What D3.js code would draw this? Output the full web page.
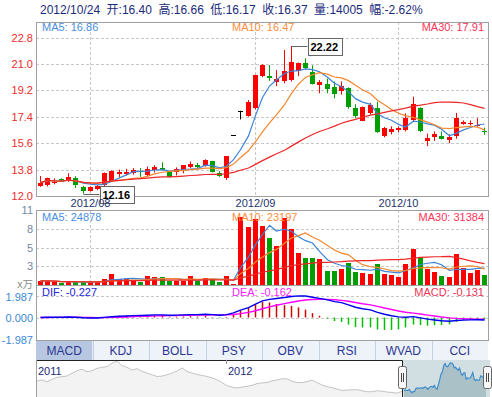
<!DOCTYPE html>
<html>
<head>
<meta charset="utf-8">
<script src="https://cdn.jsdelivr.net/npm/d3@7"></script>
<style>
  body { margin: 0; background: #fff; }
  svg { display: block; font-family: "Liberation Sans", Arial, "Noto Sans CJK SC", sans-serif; }
</style>
</head>
<body>
<div id="chart"></div>
<script>
// trading days, 2012/07/23 .. 2012/10/24
const julDays = [23, 24, 25, 26, 27, 30, 31];
const augDays = [1, 2, 3, 6, 7, 8, 9, 10, 13, 14, 15, 16, 17, 20, 21, 22, 23, 24, 27, 28, 29, 30, 31];
const sepDays = [3, 4, 5, 6, 7, 10, 11, 12, 13, 14, 17, 18, 19, 20, 21, 24, 25, 26, 27, 28];
const octDays = [8, 9, 10, 11, 12, 15, 16, 17, 18, 19, 22, 23, 24];

const opens = [12.70, 12.70, 12.87, 13.16, 13.09, 13.25, 12.63, 12.36, 12.46, 12.70,
  13.04, 13.48, 13.50, 13.55, 13.70, 13.38, 13.82, 13.93, 13.66, 13.59,
  13.77, 14.00, 14.11, 14.04, 14.38, 13.59, 13.20, 16.19, 17.81, 17.45,
  18.00, 20.17, 20.19, 19.72, 19.85, 19.85, 20.47, 21.04, 20.47, 19.56,
  19.61, 19.45, 19.15, 19.34, 17.97, 17.13, 17.67, 17.97, 16.09, 16.36,
  16.50, 16.50, 17.18, 17.97, 15.70, 16.00, 16.11, 15.86, 16.04, 16.95,
  16.95, 16.76, 16.40];
const highs = [13.36, 13.25, 13.20, 13.20, 13.55, 13.35, 12.70, 12.66, 12.75, 13.60,
  13.75, 13.80, 13.85, 13.90, 13.90, 14.00, 14.10, 14.30, 13.70, 13.95,
  14.10, 14.35, 14.25, 14.50, 14.40, 13.70, 14.72, 16.19, 17.81, 18.54,
  20.26, 20.97, 20.92, 20.58, 21.95, 22.22, 21.10, 21.38, 20.90, 19.90,
  20.00, 19.80, 19.80, 19.40, 18.25, 18.10, 18.35, 18.42, 16.70, 16.75,
  16.75, 17.63, 18.76, 18.05, 16.25, 16.40, 16.40, 16.20, 17.66, 17.15,
  17.15, 17.30, 16.66];
const lows = [12.63, 12.65, 12.80, 12.95, 12.97, 12.55, 12.16, 12.30, 12.40, 12.65,
  13.00, 13.30, 13.40, 13.45, 13.30, 13.35, 13.60, 13.75, 13.25, 13.40,
  13.55, 13.90, 13.90, 14.00, 13.60, 13.30, 13.10, 16.19, 17.22, 17.40,
  17.90, 20.10, 19.85, 19.49, 19.68, 19.80, 20.17, 20.60, 19.60, 19.00,
  19.00, 18.66, 18.90, 17.95, 17.30, 17.10, 17.55, 16.30, 16.00, 16.20,
  16.35, 16.40, 17.10, 16.35, 15.40, 15.75, 15.85, 15.60, 15.90, 16.85,
  16.80, 16.72, 16.17];
const closes = [12.91, 13.21, 12.97, 12.97, 13.31, 12.80, 12.36, 12.63, 12.68, 13.55,
  13.72, 13.61, 13.65, 13.77, 13.61, 13.82, 14.00, 13.77, 13.31, 13.82,
  14.09, 14.18, 13.95, 14.45, 13.66, 13.36, 14.72, 16.19, 17.81, 18.40,
  20.26, 20.92, 20.08, 19.95, 20.51, 21.11, 21.04, 20.70, 19.68, 19.79,
  19.27, 18.95, 19.51, 18.04, 17.40, 18.08, 18.20, 16.31, 16.65, 16.58,
  16.65, 17.33, 18.27, 16.38, 15.93, 16.22, 15.93, 16.04, 17.29, 17.06,
  17.00, 16.81, 16.37];
// volume in 万 (10k)
const volumes = [0.60, 0.60, 0.45, 0.25, 0.50, 0.45, 0.45, 0.40, 0.40, 0.85,
  1.60, 0.85, 0.85, 0.60, 0.50, 1.25, 1.15, 1.15, 0.55, 0.55,
  0.55, 1.25, 0.60, 1.00, 0.80, 0.45, 1.25, 0.08, 9.84, 8.40,
  9.51, 8.54, 6.73, 5.66, 9.70, 8.07, 4.57, 3.93, 3.93, 3.75,
  2.02, 2.02, 2.31, 3.13, 1.87, 1.73, 1.59, 3.03, 1.54, 1.44,
  1.20, 3.03, 5.19, 3.93, 2.31, 1.83, 1.34, 1.20, 4.47, 2.49,
  1.69, 2.16, 1.40];

// navigator history before the shown window (price level)
const navHistory = [15.76, 16.06, 15.56, 16.26, 16.85, 17.03, 17.23, 18.03, 18.79, 19.2,
  18.5, 18.79, 19.5, 19.79, 19.97, 21.0, 21.6, 20.3, 19.8, 19.0,
  19.4, 18.6, 18.1, 17.6, 17.1, 17.2, 17.6, 18.1, 18.7, 19.6,
  18.6, 18.1, 17.7, 17.4, 17.1, 16.7, 16.1, 15.3, 14.4, 14.0,
  13.7, 14.0, 14.2, 14.5, 15.0, 15.2, 15.3, 15.8, 16.1, 16.4,
  16.4, 15.7, 15.3, 15.3, 15.6, 16.0, 15.3, 14.6, 14.1, 13.8,
  13.4, 13.0, 13.1, 13.2, 13.2, 12.9, 12.6, 12.6, 12.9, 12.8,
  12.5, 12.4, 12.2];
const navYears = ['2011', '2012'];
const navYearIdx = [0, 38];

const monthTickDates = ['2012/08/01', '2012/09/03', '2012/10/08'];
const monthTickLabels = ['2012/08', '2012/09', '2012/10'];
const priceTicks = [12.0, 13.8, 15.6, 17.4, 19.2, 21.0, 22.8];
const volTicks = [10.8, 8.1, 5.4, 2.7];
const macdTicks = [1.987, 0, -1.987];

const titleParts = ['2012/10/24', '开:16.40', '高:16.66', '低:16.17', '收:16.37', '量:14005', '幅:-2.62%'];
const priceLegend = ['MA5: 16.86', 'MA10: 16.47', 'MA30: 17.91'];
const volLegend = ['MA5: 24878', 'MA10: 23197', 'MA30: 31384'];
const macdLegend = ['DIF: -0.227', 'DEA: -0.162', 'MACD: -0.131'];
const tabs = ['MACD', 'KDJ', 'BOLL', 'PSY', 'OBV', 'RSI', 'WVAD', 'CCI'];

const pad = d => (d < 10 ? '0' : '') + d;
const dates = [
  ...julDays.map(d => '2012/07/' + pad(d)),
  ...augDays.map(d => '2012/08/' + pad(d)),
  ...sepDays.map(d => '2012/09/' + pad(d)),
  ...octDays.map(d => '2012/10/' + pad(d))
];

const UP = '#ff0000', DOWN = '#009e00', FLAT = '#000';
const maColors = ['#3c84d8', '#f5862b', '#ee2626'];
const legendColors = ['#4a8fe0', '#ff8c3a', '#ff3358'];
const gridColor = '#c8c8c8', frameColor = '#a0a0a0';

const W = 492, H = 397;
const left = 36, right = 488;
const price = { top: 22, bottom: 196 };
const vol = { top: 210, bottom: 285 };
const mac = { top: 285, bottom: 340 };
const tab = { top: 341, bottom: 360 };
const nav = { top: 360, bottom: 397, left: 37, right: 490 };

const svg = d3.select('#chart').append('svg').attr('width', W).attr('height', H);

const x = d3.scaleBand().domain(dates).range([left, right]);
const cx = d => Math.round(x(d) + x.bandwidth() / 2);

const yPrice = d3.scaleLinear().domain([12.0, 22.8]).range([196, 37.5]);
const yVol = d3.scaleLinear().domain([0, 10.8]).range([vol.bottom, vol.top]);
const yMacd = d3.scaleLinear().domain([-1.987, 1.987]).range([339, 296]);

const bars = dates.map((d, i) => ({
  date: d, o: opens[i], h: highs[i], l: lows[i], c: closes[i], v: volumes[i],
  prev: i ? closes[i - 1] : opens[i]
}));
const candleColor = b => b.c > b.o ? UP : b.c < b.o ? DOWN : FLAT;
const volColor = b => (b.c > b.o || (b.c === b.o && b.c >= b.prev)) ? UP : DOWN;

function movingAvg(arr, n) {
  return arr.map((_, i) => d3.mean(arr.slice(Math.max(0, i - n + 1), i + 1)));
}
function ema(arr, n) {
  const k = 2 / (n + 1), out = [];
  arr.forEach((v, i) => out.push(i === 0 ? v : out[i - 1] + k * (v - out[i - 1])));
  return out;
}

// clip paths
const defs = svg.append('defs');
[['clipPrice', price], ['clipVol', vol], ['clipMacd', mac]].forEach(([id, p]) => {
  defs.append('clipPath').attr('id', id)
    .append('rect').attr('x', left).attr('y', p.top).attr('width', right - left).attr('height', p.bottom - p.top);
});

// title
let tx = 40;
titleParts.forEach(t => {
  const el = svg.append('text').attr('x', tx).attr('y', 14)
    .attr('font-size', 12).attr('fill', '#1b2a7a').text(t);
  tx += el.node().getComputedTextLength() + 6.5;
});

function hGrid(g, ys) {
  g.selectAll(null).data(ys).join('line')
    .attr('x1', left).attr('x2', right)
    .attr('y1', d => Math.round(d) + 0.5).attr('y2', d => Math.round(d) + 0.5)
    .attr('stroke', gridColor).attr('stroke-dasharray', '3,2');
}
function vGrid(g, top, bottom) {
  g.selectAll(null).data(monthTickDates).join('line')
    .attr('x1', d => cx(d) + 0.5).attr('x2', d => cx(d) + 0.5)
    .attr('y1', top).attr('y2', bottom)
    .attr('stroke', gridColor).attr('stroke-dasharray', '3,2');
}
function frame(p) {
  svg.append('rect').attr('x', left + 0.5).attr('y', p.top + 0.5)
    .attr('width', right - left).attr('height', p.bottom - p.top)
    .attr('fill', 'none').attr('stroke', frameColor);
}
function legend(items, y) {
  const xs = [42, 232, 484];
  items.forEach((t, i) => {
    svg.append('text').attr('x', xs[i]).attr('y', y)
      .attr('font-size', 11).attr('fill', legendColors[i])
      .attr('text-anchor', i === 2 ? 'end' : 'start').text(t);
  });
}
function maLine(g, values, yScale, color) {
  g.append('path').datum(values)
    .attr('fill', 'none').attr('stroke', color).attr('stroke-width', 1.2)
    .attr('d', d3.line().x((d, i) => cx(dates[i]) + 0.5).y(d => yScale(d)));
}

// ---------- price panel ----------
const gP = svg.append('g');
hGrid(gP, priceTicks.filter(t => t > 12).map(yPrice));
vGrid(gP, price.top, price.bottom);

const gC = gP.append('g').attr('clip-path', 'url(#clipPrice)');
gC.selectAll('.wick').data(bars).join('line')
  .attr('class', 'wick')
  .attr('x1', d => cx(d.date) + 0.5).attr('x2', d => cx(d.date) + 0.5)
  .attr('y1', d => yPrice(d.h)).attr('y2', d => yPrice(d.l))
  .attr('stroke', candleColor);
gC.selectAll('.body').data(bars).join('rect')
  .attr('class', 'body')
  .attr('x', d => cx(d.date) - 2).attr('width', 5)
  .attr('y', d => Math.round(yPrice(Math.max(d.o, d.c))))
  .attr('height', d => Math.max(1, Math.round(Math.abs(yPrice(d.o) - yPrice(d.c)))))
  .attr('fill', candleColor);

[5, 10, 30].forEach((n, i) => maLine(gC, movingAvg(closes, n), yPrice, maColors[i]));

frame(price);
svg.selectAll('.pt').data(priceTicks).join('text')
  .attr('x', 33).attr('y', d => yPrice(d) + 4)
  .attr('text-anchor', 'end').attr('font-size', 11).attr('fill', '#f02a2a')
  .text(d => d.toFixed(1));
legend(priceLegend, 31);

// high / low markers
function marker(i, val) {
  const px = cx(dates[i]) + 0.5, py = Math.round(yPrice(val)) + 0.5;
  const bx = px + 16;
  svg.append('line').attr('x1', px).attr('x2', bx).attr('y1', py).attr('y2', py).attr('stroke', '#666');
  const t = svg.append('text').attr('x', bx + 3).attr('y', py + 4)
    .attr('font-size', 11).attr('font-weight', 'bold').attr('fill', '#000').text(val.toFixed(2));
  const w = t.node().getComputedTextLength() + 6;
  svg.insert('rect', 'text:last-of-type')
    .attr('x', Math.round(bx) + 0.5).attr('y', Math.round(py - 8.5) + 0.5)
    .attr('width', Math.round(w)).attr('height', 17)
    .attr('fill', '#fff').attr('stroke', '#666');
  t.raise();
}
const hiIdx = d3.maxIndex(highs), loIdx = d3.minIndex(lows);
marker(hiIdx, highs[hiIdx]);
marker(loIdx, lows[loIdx]);

// month labels
svg.selectAll('.mt').data(monthTickDates).join('text')
  .attr('x', d => cx(d) + 0.5).attr('y', 207)
  .attr('text-anchor', 'middle').attr('font-size', 11).attr('fill', '#1c3470')
  .text((d, i) => monthTickLabels[i]);

// ---------- volume panel ----------
const gV = svg.append('g');
hGrid(gV, volTicks.slice(1).map(yVol));
vGrid(gV, vol.top, vol.bottom);
const gVc = gV.append('g').attr('clip-path', 'url(#clipVol)');
gVc.selectAll('.vb').data(bars).join('rect')
  .attr('x', d => cx(d.date) - 2).attr('width', 5)
  .attr('y', d => Math.round(yVol(d.v)))
  .attr('height', d => vol.bottom - Math.round(yVol(d.v)))
  .attr('fill', volColor);
[5, 10, 30].forEach((n, i) => maLine(gVc, movingAvg(volumes, n), yVol, maColors[i]));
frame(vol);
svg.selectAll('.vt').data(volTicks).join('text')
  .attr('x', 33).attr('y', d => yVol(d) + 4)
  .attr('text-anchor', 'end').attr('font-size', 11).attr('fill', '#7489a6')
  .text(d => d3.format('.0f')(d));
svg.append('text').attr('x', 33).attr('y', 288).attr('text-anchor', 'end')
  .attr('font-size', 10.5).attr('fill', '#8a8a8a').text('x万');
legend(volLegend, 221);

// ---------- MACD panel ----------
const ema12 = ema(closes, 12), ema26 = ema(closes, 26);
const dif = closes.map((c, i) => ema12[i] - ema26[i]);
const dea = ema(dif, 9);
const hist = dif.map((v, i) => 2 * (v - dea[i]));

const gM = svg.append('g');
hGrid(gM, [yMacd(1.987), yMacd(0)]);
const gMc = gM.append('g').attr('clip-path', 'url(#clipMacd)');
gMc.selectAll('.hb').data(hist).join('line')
  .attr('x1', (d, i) => cx(dates[i]) + 0.5).attr('x2', (d, i) => cx(dates[i]) + 0.5)
  .attr('y1', yMacd(0)).attr('y2', d => yMacd(d))
  .attr('stroke', d => d >= 0 ? '#cc0000' : '#00c000').attr('stroke-width', 1.5);
gMc.append('path').datum(dea).attr('fill', 'none').attr('stroke', '#ff00ff').attr('stroke-width', 1.4)
  .attr('d', d3.line().x((d, i) => cx(dates[i]) + 0.5).y(yMacd));
gMc.append('path').datum(dif).attr('fill', 'none').attr('stroke', '#0000ee').attr('stroke-width', 1.4)
  .attr('d', d3.line().x((d, i) => cx(dates[i]) + 0.5).y(yMacd));
frame(mac);
svg.selectAll('.mct').data(macdTicks).join('text')
  .attr('x', 33).attr('y', d => yMacd(d) + 4.5)
  .attr('text-anchor', 'end').attr('font-size', 11).attr('fill', '#3a8ad6')
  .text(d => d.toFixed(3));
const macdLegendColors = ['#2323e0', '#ff22ff', '#ee3355'];
macdLegend.forEach((t, i) => {
  svg.append('text').attr('x', [42, 232, 484][i]).attr('y', 296)
    .attr('font-size', 11).attr('fill', macdLegendColors[i])
    .attr('text-anchor', i === 2 ? 'end' : 'start').text(t);
});

// ---------- tabs ----------
const tw = (right - left) / tabs.length;
const gT = svg.append('g');
gT.selectAll('rect').data(tabs).join('rect')
  .attr('x', (d, i) => left + i * tw).attr('y', tab.top)
  .attr('width', tw).attr('height', tab.bottom - tab.top)
  .attr('fill', (d, i) => i === 0 ? '#b7c7e2' : '#eef2f9');
gT.selectAll('line').data(tabs.slice(1)).join('line')
  .attr('x1', (d, i) => Math.round(left + (i + 1) * tw) + 0.5)
  .attr('x2', (d, i) => Math.round(left + (i + 1) * tw) + 0.5)
  .attr('y1', tab.top).attr('y2', tab.bottom).attr('stroke', '#c3cfe3');
gT.selectAll('text').data(tabs).join('text')
  .attr('x', (d, i) => left + i * tw + tw / 2).attr('y', tab.top + 14)
  .attr('text-anchor', 'middle').attr('font-size', 12).attr('fill', '#2b3790')
  .text(d => d);

// ---------- navigator ----------
const selLeft = 402, selRight = 488;
const navXHist = d3.scaleLinear().domain([0, navHistory.length - 1]).range([nav.left, 397]);
const navXSel = d3.scaleLinear().domain([0, closes.length - 1]).range([selLeft + 2, selRight - 2]);
const navY = d3.scaleLinear().domain([11.06, 21.94]).range([nav.bottom, nav.top]);

const histPts = navHistory.map((v, i) => [navXHist(i), navY(v)]).concat([[navXSel(0), navY(closes[0])]]);
const selPts = closes.map((v, i) => [navXSel(i), navY(v)]);
const area = d3.area().x(d => d[0]).y0(nav.bottom).y1(d => d[1]);
const line = d3.line().x(d => d[0]).y(d => d[1]);

svg.append('path').datum(histPts).attr('d', area).attr('fill', '#f3f3f3');
svg.append('path').datum(histPts).attr('d', line).attr('fill', 'none').attr('stroke', '#c4c4c4');

svg.append('rect').attr('x', selLeft).attr('y', nav.top).attr('width', nav.right - selLeft)
  .attr('height', nav.bottom - nav.top).attr('fill', '#d2dfe2');
svg.append('path').datum(selPts).attr('d', area).attr('fill', '#a9c1c7');
svg.append('path').datum(selPts).attr('d', line).attr('fill', 'none').attr('stroke', '#3d8ccb').attr('stroke-width', 1.2);

svg.append('line').attr('x1', left + 0.5).attr('x2', left + 0.5).attr('y1', nav.top).attr('y2', nav.bottom).attr('stroke', frameColor);
svg.append('path').attr('d', `M${left},${nav.top + 0.5}H${selLeft + 0.5}V${nav.bottom}`)
  .attr('fill', 'none').attr('stroke', '#222');

navYears.forEach((t, i) => {
  const xx = navXHist(navYearIdx[i]);
  svg.append('line').attr('x1', Math.round(xx) - 0.5).attr('x2', Math.round(xx) - 0.5)
    .attr('y1', nav.top).attr('y2', nav.top + 4).attr('stroke', '#999');
  svg.append('text').attr('x', xx + 1).attr('y', 375).attr('font-size', 11)
    .attr('fill', '#1b2a7a').text(t);
});

[selLeft - 4, selRight - 5].forEach(hx => {
  svg.append('rect').attr('x', hx + 0.5).attr('y', 366.5).attr('width', 8).attr('height', 22)
    .attr('rx', 2).attr('fill', '#f8f8f8').attr('stroke', '#666');
  [3, 5].forEach(o => svg.append('line').attr('x1', hx + o + 0.5).attr('x2', hx + o + 0.5)
    .attr('y1', 373).attr('y2', 382).attr('stroke', '#444'));
});
</script>
</body>
</html>
